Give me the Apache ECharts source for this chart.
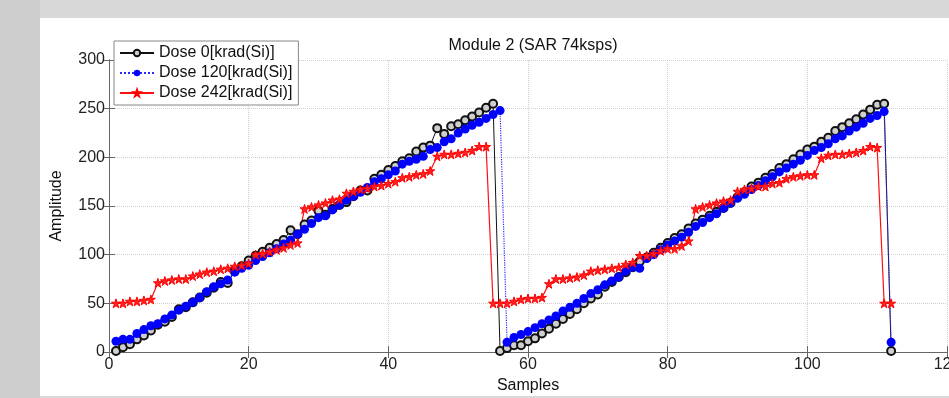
<!DOCTYPE html>
<html>
<head>
<meta charset="utf-8">
<script src="https://cdn.jsdelivr.net/npm/echarts@6/dist/echarts.min.js"></script>
<style>
  html, body { margin: 0; padding: 0; }
  #wrap { position: relative; width: 949px; height: 398px; background: #d8d8d8; overflow: hidden; }
  #leftband { position: absolute; left: 0; top: 0; width: 40px; height: 398px; background: #cdcdcd; }
  #paper { position: absolute; left: 40px; top: 18px; width: 909px; height: 378px; background: #fff; }
  #main { position: absolute; left: 0; top: 0; width: 949px; height: 398px; }
</style>
</head>
<body>
<div id="wrap">
  <div id="leftband"></div>
  <div id="paper"></div>
  <div id="main"></div>
</div>
<script>
// sample index runs 1..112
const seriesNames = ['Dose 0[krad(Si)]', 'Dose 120[krad(Si)]', 'Dose 242[krad(Si)]'];
const dose0 = [
  1, 5, 8, 13, 17, 22, 28, 31, 36, 44, 46, 51, 56, 61, 66, 72, 71, 83, 88, 94,
  99, 103, 107, 111, 115, 125, 121, 131, 135, 145, 141, 147, 151, 154, 160, 166, 166, 178, 182, 187,
  191, 196, 199, 206, 210, 212, 230, 224, 232, 234, 238, 242, 246, 251, 255, 1,
  4, 7, 7, 11, 14, 19, 24, 29, 34, 39, 44, 50, 55, 59, 67, 72, 77, 82, 87, 93,
  97, 102, 107, 112, 117, 121, 127, 132, 136, 140, 144, 148, 153, 159, 164, 170, 174, 179, 183, 189,
  193, 198, 203, 208, 211, 216, 220, 227, 231, 235, 239, 244, 249, 254, 255, 1
];
const dose120 = [
  11, 13, 13, 19, 23, 27, 29, 34, 38, 43, 47, 51, 56, 62, 67, 70, 74, 82, 86, 89,
  94, 98, 102, 106, 111, 115, 121, 126, 132, 138, 140, 146, 151, 156, 160, 164, 169, 175, 178, 182,
  186, 193, 196, 198, 201, 208, 210, 216, 219, 225, 229, 233, 236, 240, 244, 248,
  10, 15, 18, 21, 25, 29, 33, 37, 42, 46, 50, 55, 60, 64, 69, 73, 77, 83, 87, 86,
  96, 100, 105, 110, 114, 118, 123, 129, 133, 138, 142, 148, 153, 158, 162, 167, 171, 176, 180, 185,
  189, 193, 197, 202, 207, 210, 214, 219, 222, 227, 231, 235, 240, 243, 247, 10
];
const dose242 = [
  50, 50, 52, 52, 53, 54, 71, 73, 74, 75, 75, 78, 80, 82, 83, 85, 86, 88, 89, 91,
  100, 101, 103, 105, 107, 110, 112, 147, 149, 151, 153, 156, 157, 163, 165, 167, 168, 170, 171, 173,
  175, 179, 180, 182, 183, 186, 201, 203, 203, 204, 205, 207, 211, 211, 50, 50,
  50, 52, 54, 55, 55, 56, 70, 75, 75, 76, 77, 79, 83, 84, 85, 86, 87, 90, 92, 99,
  99, 101, 104, 106, 106, 109, 114, 147, 149, 151, 153, 155, 156, 165, 167, 168, 170, 170, 173, 174,
  178, 180, 181, 182, 182, 199, 202, 203, 203, 204, 205, 207, 211, 210, 50, 50
];
const xTicks = { min: 0, max: 120, interval: 20 };
const yTicks = { min: 0, max: 300, interval: 50 };

const toPoints = vals => vals.map((v, i) => [i + 1, v]);
const starPath = 'path://M50,2 L61,36 L97,36 L68,57 L79,92 L50,71 L21,92 L32,57 L3,36 L39,36 Z';
const font = "'Liberation Sans', Arial, sans-serif";
const axisGrey = '#666';

const myChart = echarts.init(document.getElementById('main'));
const option = {
  animation: false,
  backgroundColor: 'transparent',
  textStyle: { fontFamily: font },
  title: {
    text: 'Module 2 (SAR 74ksps)',
    left: 528,
    top: 33,
    textAlign: 'center',
    textStyle: { fontSize: 16, fontWeight: 'normal', color: '#111', fontFamily: font }
  },
  grid: { left: 109, right: 2, top: 60, bottom: 46, outerBoundsMode: 'none', containLabel: false },
  legend: {
    orient: 'vertical',
    left: 114,
    top: 41,
    itemWidth: 34,
    itemHeight: 8,
    itemGap: 2,
    padding: [3, 6, 3, 5],
    backgroundColor: '#fff',
    borderColor: '#888',
    borderWidth: 1,
    textStyle: { fontSize: 16, color: '#111', lineHeight: 18, fontFamily: font },
    data: seriesNames
  },
  xAxis: [
    {
      type: 'value', ...xTicks,
      name: 'Samples', nameLocation: 'middle', nameGap: 21,
      nameTextStyle: { fontSize: 16, color: '#111', fontFamily: font },
      axisLine: { lineStyle: { color: axisGrey } },
      axisTick: { inside: true, length: 6, lineStyle: { color: axisGrey } },
      axisLabel: { fontSize: 16, color: '#222', margin: 5, fontFamily: font },
      splitLine: { show: true, lineStyle: { type: 'dotted', color: '#cfcfcf' } }
    },
    {
      type: 'value', ...xTicks, position: 'top',
      axisLine: { show: true, lineStyle: { color: axisGrey } },
      axisTick: { show: true, inside: true, length: 6, lineStyle: { color: axisGrey } },
      axisLabel: { show: false },
      splitLine: { show: false }
    }
  ],
  yAxis: [
    {
      type: 'value', ...yTicks,
      name: 'Amplitude', nameLocation: 'middle', nameGap: 44, nameRotate: 90,
      nameTextStyle: { fontSize: 16, color: '#111', fontFamily: font },
      axisLine: { show: true, lineStyle: { color: axisGrey } },
      axisTick: { show: true, inside: true, length: 6, lineStyle: { color: axisGrey } },
      axisLabel: { fontSize: 16, color: '#222', margin: 4, fontFamily: font },
      splitLine: { show: true, lineStyle: { type: 'dotted', color: '#cfcfcf' } }
    },
    {
      type: 'value', ...yTicks, position: 'right',
      axisLine: { show: true, lineStyle: { color: axisGrey } },
      axisTick: { show: true, inside: true, length: 6, lineStyle: { color: axisGrey } },
      axisLabel: { show: false },
      splitLine: { show: false }
    }
  ],
  series: [
    {
      name: seriesNames[0],
      type: 'line',
      data: toPoints(dose0),
      symbol: 'circle',
      symbolSize: 8,
      lineStyle: { color: '#111', width: 1 },
      itemStyle: { color: '#cfcfcf', borderColor: '#111', borderWidth: 2 }
    },
    {
      name: seriesNames[1],
      type: 'line',
      data: toPoints(dose120),
      symbol: 'circle',
      symbolSize: 9,
      lineStyle: { color: '#2a2aff', width: 1.2, type: 'dotted' },
      itemStyle: { color: '#0000ff', borderColor: '#0000ff', borderWidth: 0 }
    },
    {
      name: seriesNames[2],
      type: 'line',
      data: toPoints(dose242),
      symbol: starPath,
      symbolSize: 9,
      lineStyle: { color: '#ff1010', width: 1.2 },
      itemStyle: { color: '#ff2020', borderColor: '#ff0000', borderWidth: 1 }
    }
  ]
};
myChart.setOption(option);
</script>
</body>
</html>
